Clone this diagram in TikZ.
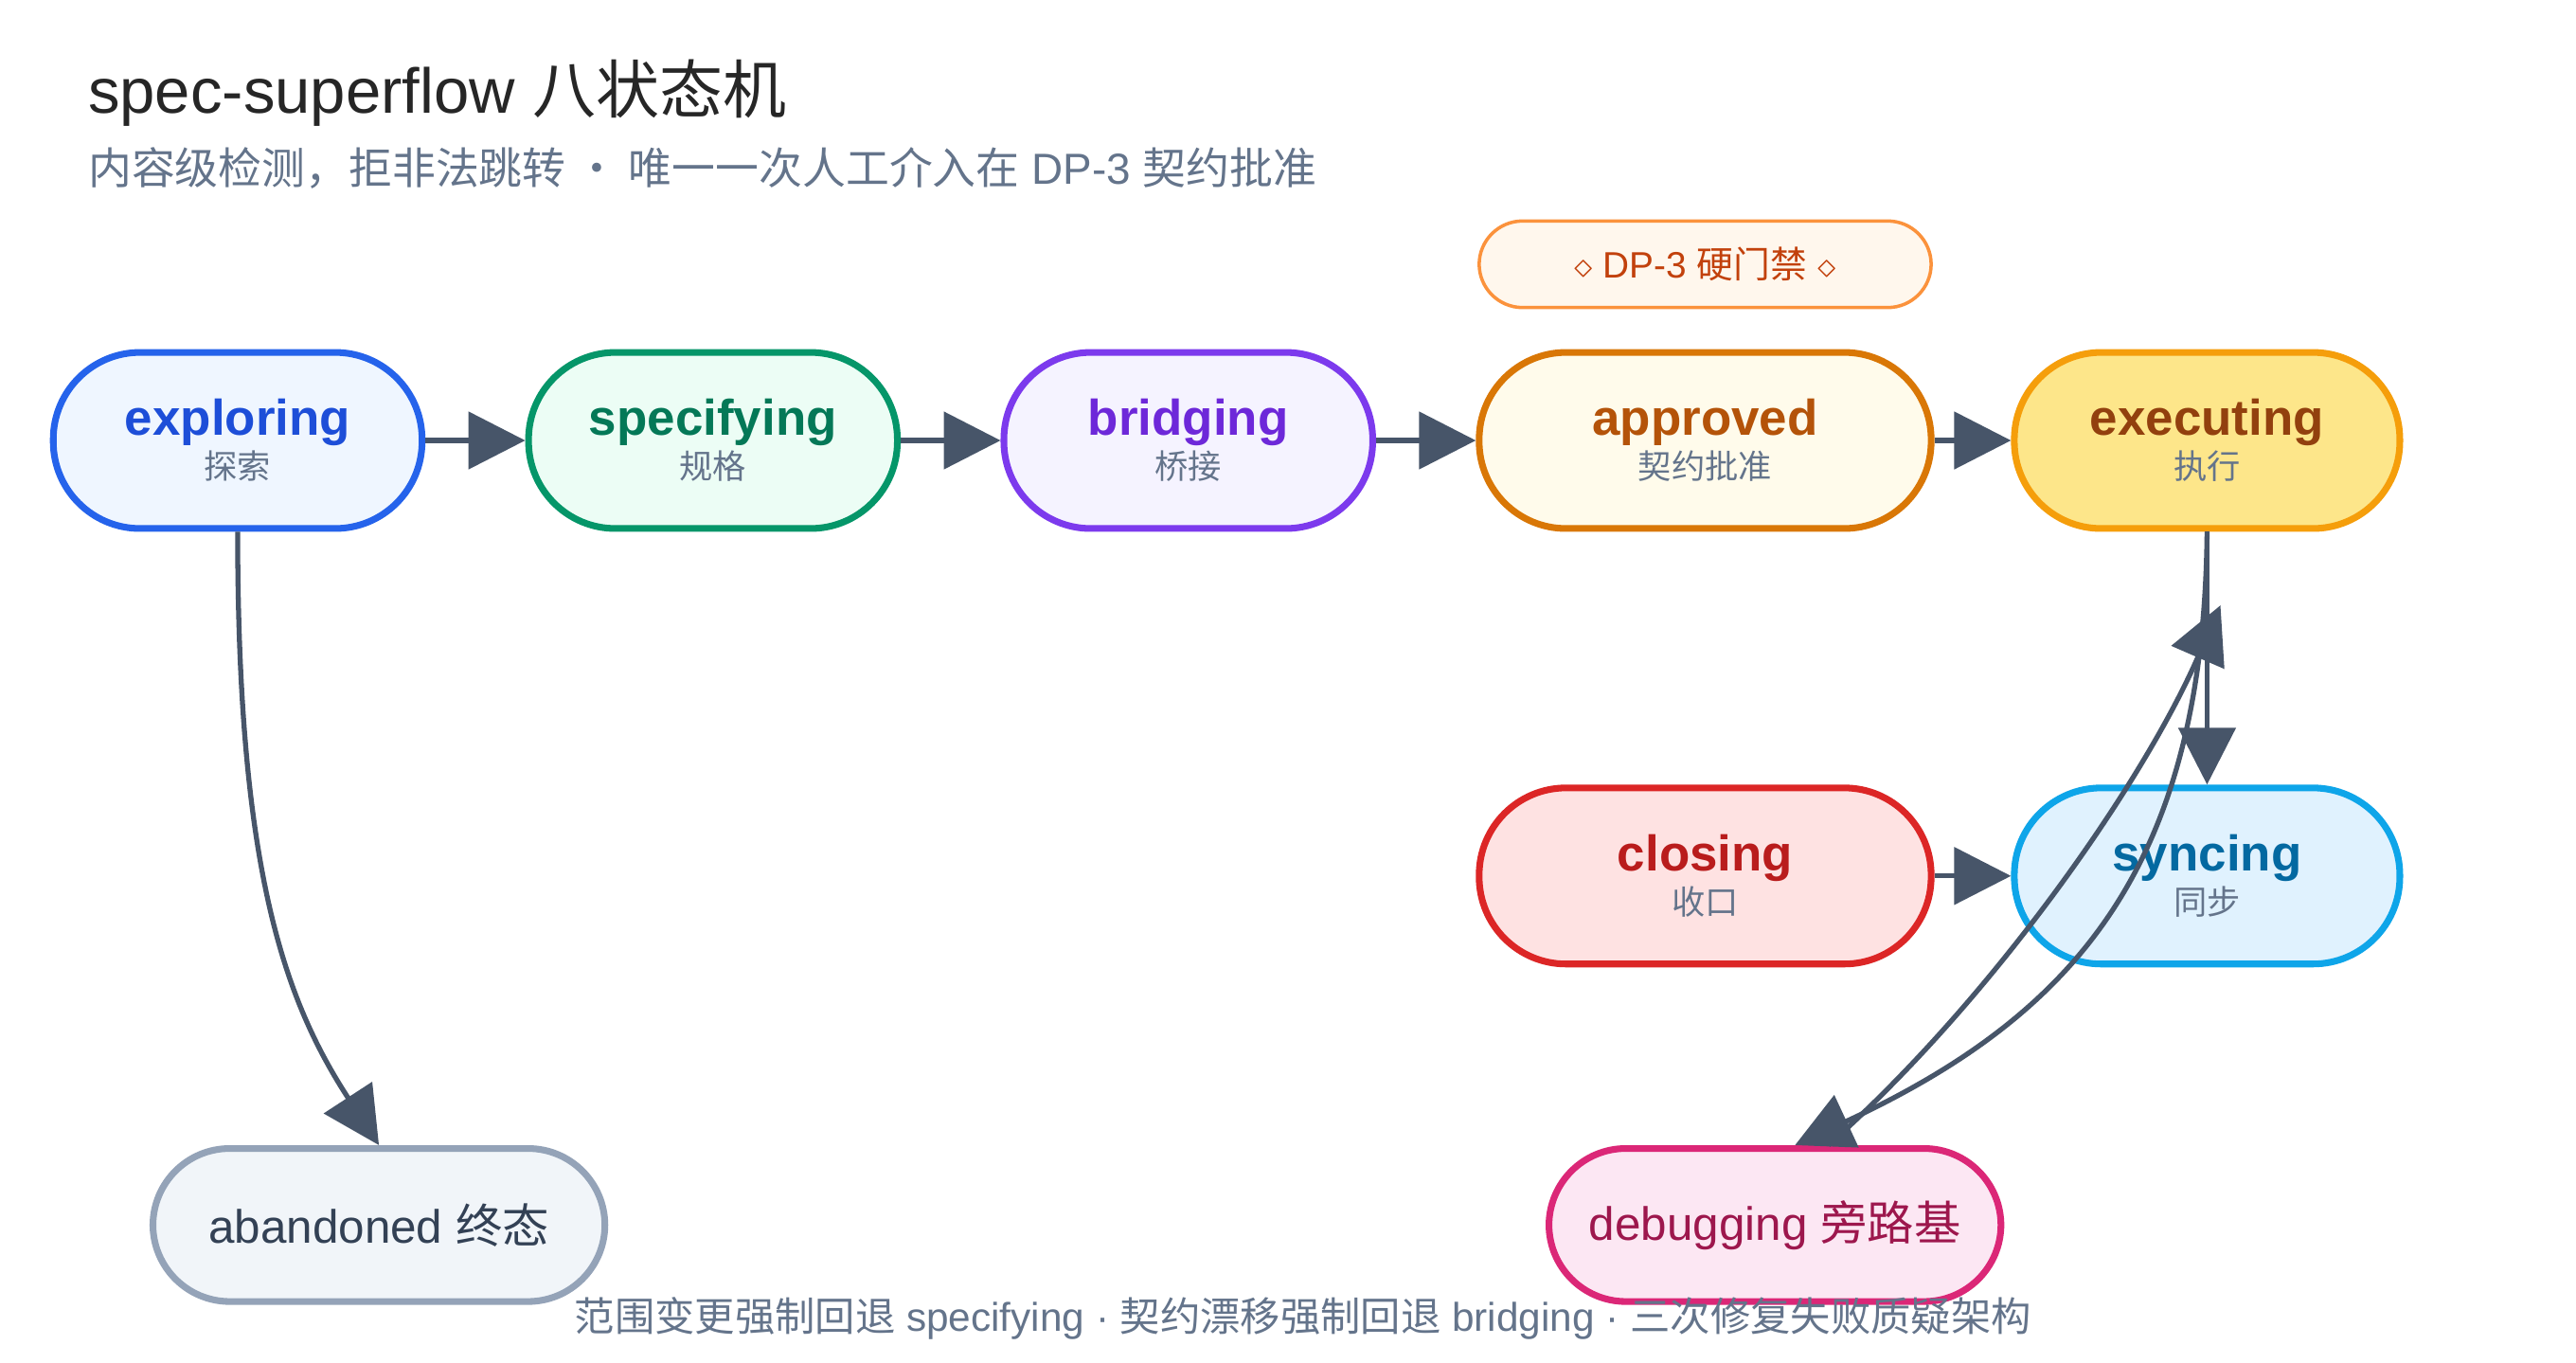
\documentclass[tikz,border=0pt]{standalone}
\usepackage{fontspec}
\setmainfont{Liberation Sans}
\newfontfamily\cjk{Noto Sans CJK SC}
\newcommand{\zh}[1]{{\cjk #1}}
\usetikzlibrary{arrows.meta}
\definecolor{ar}{HTML}{475569}
\definecolor{gr}{HTML}{64748B}
\definecolor{dpb}{HTML}{FB923C}\definecolor{dpf}{HTML}{FFF7ED}\definecolor{dpt}{HTML}{C2410C}
\definecolor{exb}{HTML}{2563EB}\definecolor{exf}{HTML}{EFF6FF}
\definecolor{spb}{HTML}{059669}\definecolor{spf}{HTML}{ECFDF5}
\definecolor{brb}{HTML}{7C3AED}\definecolor{brf}{HTML}{F5F3FF}
\definecolor{apb}{HTML}{D97706}\definecolor{apf}{HTML}{FFFBEB}
\definecolor{eeb}{HTML}{F59E0B}\definecolor{eef}{HTML}{FDE68A}
\definecolor{clb}{HTML}{DC2626}\definecolor{clf}{HTML}{FEE2E2}
\definecolor{syb}{HTML}{0EA5E9}\definecolor{syf}{HTML}{E0F2FE}
\definecolor{abb}{HTML}{94A3B8}\definecolor{abf}{HTML}{F1F5F9}\definecolor{abt}{HTML}{334155}
\definecolor{deb}{HTML}{DB2777}\definecolor{def}{HTML}{FCE7F3}\definecolor{det}{HTML}{9D174D}
\tikzset{
 st/.style 2 args={draw=#1, fill=#2, line width=2pt, rounded corners=26pt, minimum height=52.7pt, minimum width=110.4pt, align=center, inner sep=0pt},
 ed/.style={draw=ar, line width=1.5pt, -{Triangle[length=17pt,width=17pt]}},
}
\newcommand{\two}[3]{{\fontsize{15}{17}\selectfont\bfseries\color[HTML]{#1}#2}\\[1pt]{\fontsize{10}{12}\selectfont\color{gr}\zh{#3}}}
\begin{document}
\begin{tikzpicture}[x=0.4975pt,y=-0.4975pt]
\useasboundingbox[fill=white] (0,0) rectangle (1550,820);
\node[anchor=base west,font=\fontsize{19}{22}\selectfont,text=black!85] (title) at (46,68) {spec-superflow \zh{八状态机}};
\node[anchor=base west,font=\fontsize{13}{15}\selectfont,text=gr] (sub) at (46,111) {\zh{内容级检测，拒非法跳转 · 唯一一次人工介入在} DP-3 \zh{契约批准}};
\node[st={dpb}{dpf}, line width=1pt, minimum width=135.3pt, minimum height=25.9pt, rounded corners=13pt, font=\fontsize{11}{13}\selectfont, text=dpt] (dp) at (1026,159) {$\diamond$ DP-3 \zh{硬门禁} $\diamond$};
\node[st={exb}{exf}] (exp) at (143,265) {\two{1D4ED8}{exploring}{探索}};
\node[st={spb}{spf}] (spe) at (429,265) {\two{047857}{specifying}{规格}};
\node[st={brb}{brf}] (bri) at (715,265) {\two{6D28D9}{bridging}{桥接}};
\node[st={apb}{apf}, minimum width=135.3pt] (app) at (1026,265) {\two{B45309}{approved}{契约批准}};
\node[st={eeb}{eef}, minimum width=115.4pt] (exe) at (1328,265) {\two{92400E}{executing}{执行}};
\node[st={clb}{clf}, minimum width=135.3pt] (clo) at (1026,527) {\two{B91C1C}{closing}{收口}};
\node[st={syb}{syf}, minimum width=115.4pt] (syn) at (1328,527) {\two{0369A1}{syncing}{同步}};
\node[st={abb}{abf}, minimum width=135.3pt, minimum height=45.8pt, rounded corners=23pt, font=\fontsize{14}{16}\selectfont, text=abt] (aba) at (228,737) {abandoned \zh{终态}};
\node[st={deb}{def}, minimum width=135.3pt, minimum height=45.8pt, rounded corners=23pt, font=\fontsize{14}{16}\selectfont, text=det] (dbg) at (1068,737) {debugging \zh{旁路基}};
\draw[ed] (exp) -- (spe);
\draw[ed] (spe) -- (bri);
\draw[ed] (bri) -- (app);
\draw[ed] (app) -- (exe);
\draw[ed] (clo) -- (syn);
\draw[ed] (exe.south) -- (syn.north);
\draw[ed] (exp.south) .. controls (143,520) and (170,600) .. (aba.north);
\draw[ed] (exe.south) .. controls (1326,520) and (1250,610) .. ([xshift=6pt]dbg.north);
\draw[ed] ([xshift=16pt]dbg.north) .. controls (1200,600) and (1290,470) .. ([shift={(4pt,-22pt)}]exe.south);
\node[font=\fontsize{12}{14}\selectfont, text=gr] (cap) at (784,793) {\zh{范围变更强制回退} specifying · \zh{契约漂移强制回退} bridging · \zh{三次修复失败质疑架构}};
\end{tikzpicture}
\end{document}
